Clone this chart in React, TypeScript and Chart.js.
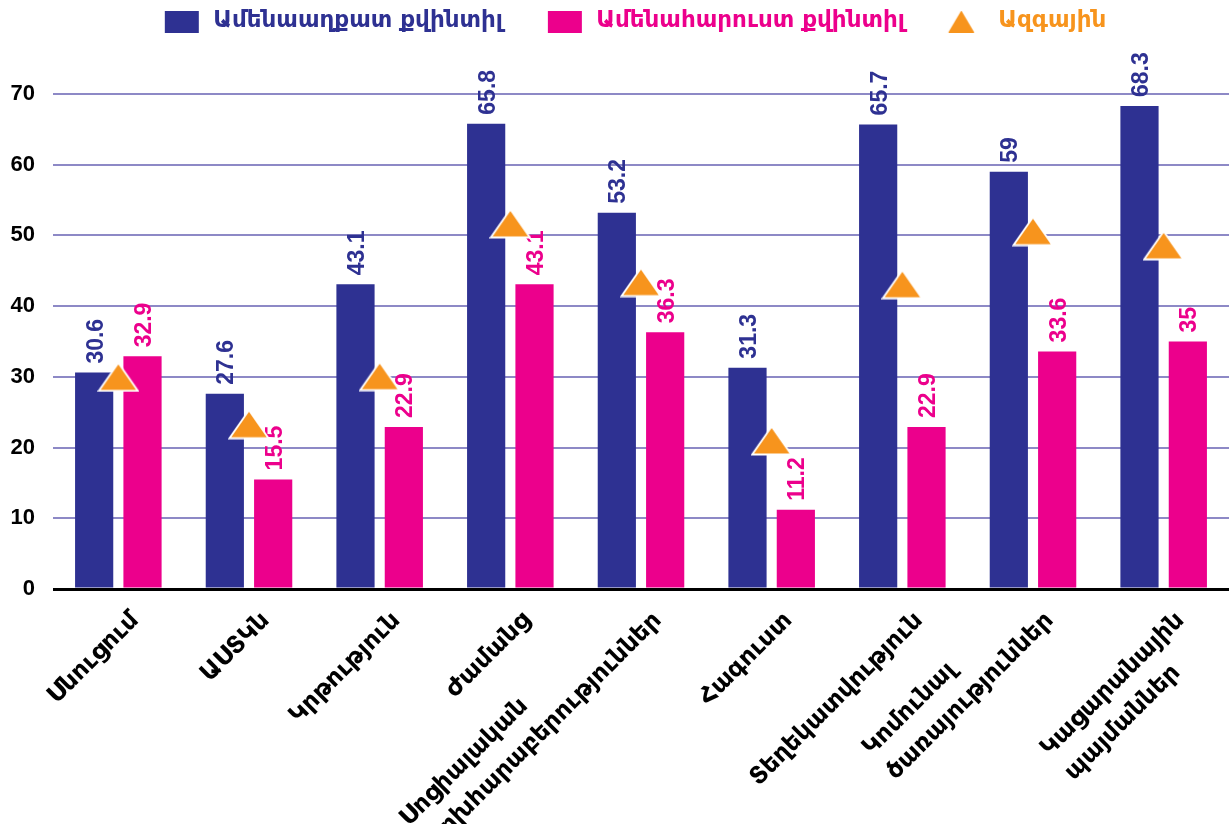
import React, { useEffect, useRef } from 'react';
import { Chart, registerables } from 'chart.js';

Chart.register(...registerables);

// ---------- data ----------
const categories: string[][] = [
  ['Սնուցում'],
  ['ԱՍՏԿն'],
  ['Կրթություն'],
  ['Ժամանց'],
  ['Սոցիալական', 'փոխհարաբերություններ'],
  ['Հագուստ'],
  ['Տեղեկատվություն'],
  ['Կոմունալ', 'ծառայություններ'],
  ['Կացարանային', 'պայմաններ'],
];
const poorest = [30.6, 27.6, 43.1, 65.8, 53.2, 31.3, 65.7, 59, 68.3];
const richest = [32.9, 15.5, 22.9, 43.1, 36.3, 11.2, 22.9, 33.6, 35];
const national = [30.0, 23.3, 30.1, 51.7, 43.4, 21.0, 43.1, 50.6, 48.6];
const seriesNames = ['Ամենաաղքատ քվինտիլ', 'Ամենահարուստ քվինտիլ', 'Ազգային'];
const yMin = 0;
const yMax = 70;
const yStep = 10;

// ---------- styles ----------
const BLUE = '#2e3192';
const PINK = '#ec008c';
const ORANGE = '#f7941d';
const GRID = '#8d89c6';
const ARM_FONT = '"DejaVu Sans", "Noto Sans", sans-serif';
const NUM_FONT = '"Liberation Sans", Arial, sans-serif';

function makeCanvas(w: number, h: number, draw: (ctx: CanvasRenderingContext2D) => void) {
  const c = document.createElement('canvas');
  c.width = w;
  c.height = h;
  const ctx = c.getContext('2d')!;
  draw(ctx);
  return c;
}

function triangleMarker(w: number, h: number, border: number) {
  return makeCanvas(w, h, (ctx) => {
    const b = border;
    ctx.beginPath();
    ctx.moveTo(w / 2, b);
    ctx.lineTo(w - b, h - b);
    ctx.lineTo(b, h - b);
    ctx.closePath();
    ctx.fillStyle = ORANGE;
    ctx.fill();
    if (b > 0) {
      ctx.lineWidth = b * 1.2;
      ctx.strokeStyle = '#ffffff';
      ctx.stroke();
    }
  });
}

const LEG_W = 72;
function legendRect(color: string) {
  return makeCanvas(LEG_W, 22, (ctx) => {
    ctx.fillStyle = color;
    ctx.fillRect(35, 0, 34, 22);
  });
}
function legendTriangle() {
  return makeCanvas(LEG_W, 22, (ctx) => {
    ctx.beginPath();
    ctx.moveTo(LEG_W - 25.5, 0);
    ctx.lineTo(LEG_W - 12.5, 22);
    ctx.lineTo(LEG_W - 38.5, 22);
    ctx.closePath();
    ctx.fillStyle = ORANGE;
    ctx.fill();
  });
}

const valueLabelPlugin = {
  id: 'valueLabels',
  afterDatasetDraw(chart: any, args: any) {
    const ds = chart.data.datasets[args.index];
    if (ds.type !== 'bar') return;
    const ctx = chart.ctx as CanvasRenderingContext2D;
    ctx.save();
    ctx.font = `bold 23px ${NUM_FONT}`;
    ctx.fillStyle = ds.backgroundColor;
    ctx.textAlign = 'left';
    ctx.textBaseline = 'alphabetic';
    args.meta.data.forEach((bar: any, i: number) => {
      ctx.save();
      ctx.translate(bar.x + 8.5, bar.y - 9);
      ctx.rotate(-Math.PI / 2);
      ctx.fillText(String(ds.data[i]), 0, 0);
      ctx.restore();
    });
    ctx.restore();
  },
};

const xLabelPlugin = {
  id: 'xLabels',
  afterDraw(chart: any) {
    const ctx = chart.ctx as CanvasRenderingContext2D;
    const xs = chart.scales.x;
    const lh = 34;
    ctx.save();
    ctx.font = `bold 24px ${ARM_FONT}`;
    ctx.fillStyle = '#000';
    ctx.textAlign = 'left';
    ctx.textBaseline = 'middle';
    categories.forEach((lines, i) => {
      const x = xs.getPixelForValue(i);
      const widths = lines.map((l) => ctx.measureText(l).width);
      // the line whose right end sits highest is anchored at the tick
      let best = 0;
      let bestVal = Infinity;
      widths.forEach((w, j) => {
        const v = j * lh - w;
        if (v < bestVal) {
          bestVal = v;
          best = j;
        }
      });
      ctx.save();
      ctx.translate(x + 17, xs.top + 28);
      ctx.rotate(-Math.PI / 4);
      lines.forEach((l, j) => {
        ctx.fillText(l, -widths[best], (j - best) * lh);
      });
      ctx.restore();
    });
    ctx.restore();
  },
};

const legendSpacePlugin = {
  id: 'legendSpace',
  afterInit(chart: any) {
    const legend = chart.legend;
    if (!legend) return;
    const orig = legend.fit;
    legend.fit = function () {
      orig.call(this);
      this.height = 94;
    };
  },
};

export default function App() {
  const ref = useRef<HTMLCanvasElement | null>(null);

  useEffect(() => {
    if (!ref.current) return;
    const legendImgs = [legendRect(BLUE), legendRect(PINK), legendTriangle()];
    const legendColors = [BLUE, PINK, ORANGE];
    const chart = new Chart(ref.current, {
      type: 'bar',
      data: {
        labels: categories.map((c) => c.join(' ')),
        datasets: [
          {
            type: 'line' as const,
            label: seriesNames[2],
            data: national,
            showLine: false,
            pointStyle: triangleMarker(42, 31, 1.5) as any,
            pointRadius: 10,
            pointHoverRadius: 10,
            backgroundColor: ORANGE,
            borderColor: ORANGE,
            order: 0,
          },
          {
            type: 'bar' as const,
            label: seriesNames[0],
            data: poorest,
            backgroundColor: BLUE,
            borderWidth: 0,
            categoryPercentage: 0.74,
            barPercentage: 0.79,
            order: 1,
          },
          {
            type: 'bar' as const,
            label: seriesNames[1],
            data: richest,
            backgroundColor: PINK,
            borderWidth: 0,
            categoryPercentage: 0.74,
            barPercentage: 0.79,
            order: 1,
          },
        ],
      },
      options: {
        animation: false,
        responsive: true,
        maintainAspectRatio: false,
        layout: { padding: { left: 0, right: 4, top: 0, bottom: 0 } },
        plugins: {
          tooltip: { enabled: false },
          legend: {
            display: true,
            position: 'top',
            labels: {
              usePointStyle: true,
              pointStyleWidth: LEG_W,
              padding: 10,
              font: { family: ARM_FONT, size: 23, weight: 'bold' },
              generateLabels: () =>
                [0, 1, 2].map((k) => ({
                  text: seriesNames[k],
                  fillStyle: legendColors[k],
                  strokeStyle: legendColors[k],
                  fontColor: legendColors[k],
                  lineWidth: 0,
                  hidden: false,
                  pointStyle: legendImgs[k] as any,
                  datasetIndex: k,
                })),
            },
          },
        },
        scales: {
          x: {
            offset: true,
            grid: { display: false },
            border: { display: false },
            ticks: { display: false },
            afterFit: (s: any) => {
              s.height = 235;
            },
          },
          y: {
            min: yMin,
            max: yMax,
            ticks: {
              stepSize: yStep,
              padding: 18,
              color: '#000',
              font: { family: NUM_FONT, size: 22, weight: 'bold' },
            },
            grid: {
              drawTicks: false,
              color: (c: any) => (c.tick && c.tick.value === 0 ? '#000' : GRID),
              lineWidth: (c: any) => (c.tick && c.tick.value === 0 ? 3 : 2),
            },
            border: { display: false },
            afterFit: (s: any) => {
              s.width = 53;
            },
          },
        },
      },
      plugins: [legendSpacePlugin, valueLabelPlugin, xLabelPlugin],
    });
    return () => chart.destroy();
  }, []);

  return (
    <div style={{ position: 'fixed', left: 0, top: 0, width: 1240, height: 824, background: '#fff' }}>
      <canvas ref={ref} />
    </div>
  );
}
